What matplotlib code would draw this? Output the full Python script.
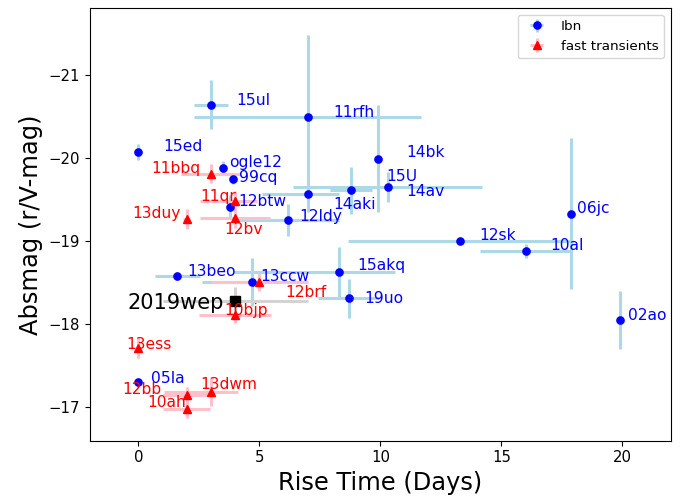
import matplotlib
matplotlib.use("Agg")
import matplotlib.pyplot as plt

# ---------------- data ----------------
ibn_names = ["15ed", "15ul", "11rfh", "ogle12", "99cq", "12btw", "12ldy", "14aki",
             "15U", "14bk", "14av", "06jc", "12sk", "10al", "13beo", "13ccw",
             "15akq", "19uo", "05la", "02ao"]
ibn_rise = [0.0, 3.0, 7.0, 3.5, 3.9, 3.8, 6.2, 7.0,
            8.8, 9.9, 10.3, 17.9, 13.3, 16.0, 1.6, 4.7,
            8.3, 8.7, 0.0, 19.9]
ibn_mag = [-20.07, -20.64, -20.49, -19.88, -19.74, -19.41, -19.25, -19.57,
           -19.61, -19.99, -19.65, -19.33, -19.00, -18.88, -18.58, -18.51,
           -18.63, -18.31, -17.30, -18.05]
ibn_rise_err_lo = [0.0, 0.7, 4.7, 0.0, 0.0, 0.0, 2.1, 1.9,
                   0.87, 0.0, 3.9, 0.0, 4.65, 1.9, 0.93, 2.07,
                   4.4, 1.26, 0.0, 0.0]
ibn_rise_err_hi = [0.0, 0.7, 4.7, 0.0, 0.0, 0.0, 2.1, 1.3,
                   0.87, 0.0, 3.9, 0.0, 4.65, 1.9, 0.93, 2.07,
                   2.3, 1.26, 0.0, 0.0]
ibn_mag_err = [0.10, 0.29, 0.99, 0.08, 0.05, 0.14, 0.19, 0.22,
               0.28, 0.64, 0.18, 0.91, 0.0, 0.08, 0.05, 0.29,
               0.30, 0.23, 0.05, 0.35]
ibn_label_xy = [(1.04, -20.13), (4.04, -20.69), (8.04, -20.54), (3.75, -19.94),
                (4.14, -19.76), (4.14, -19.47), (6.66, -19.30), (8.04, -19.44),
                (10.25, -19.77), (11.06, -20.06), (11.06, -19.60), (18.14, -19.39),
                (14.07, -19.06), (17.03, -18.94), (2.04, -18.63), (5.04, -18.57),
                (9.04, -18.70), (9.34, -18.31), (0.51, -17.35), (20.23, -18.11)]

ft_names = ["11bbq", "11qr", "13duy", "12bv", "12brf", "10bjp", "13ess",
            "12bb", "13dwm", "10ah"]
ft_rise = [3.0, 4.0, 2.0, 4.0, 5.0, 4.0, 0.0, 2.0, 3.0, 2.0]
ft_mag = [-19.81, -19.48, -19.27, -19.28, -18.51, -18.11, -17.71,
          -17.15, -17.19, -16.98]
ft_rise_err_lo = [1.24, 1.45, 0.15, 1.45, 2.0, 1.5, 0.0, 0.97, 1.95, 0.97]
ft_rise_err_hi = [1.24, 0.9, 0.15, 1.45, 2.0, 1.5, 0.0, 0.97, 1.1, 0.97]
ft_mag_err = [0.11, 0.12, 0.12, 0.12, 0.11, 0.10, 0.12, 0.10, 0.17, 0.11]
ft_label_xy = [(0.55, -19.87), (2.55, -19.54), (-0.25, -19.33), (3.55, -19.14),
               (6.07, -18.38), (3.56, -18.16), (-0.48, -17.76), (-0.66, -17.22),
               (2.55, -17.28), (0.35, -17.06)]

wep_name = "2019wep"
wep_rise = [4.0]
wep_mag = [-18.28]
wep_rise_err = [3.0]
wep_mag_err = [0.17]
wep_label_xy = (-0.46, -18.26)

# ---------------- plot ----------------
W, H = 683, 500
fig = plt.figure(figsize=(W / 100, H / 100), dpi=100)
ax = fig.add_axes([90 / W, 1 - 440.7 / H, (670.7 - 90) / W, (440.7 - 8) / H])

ax.errorbar(ibn_rise, ibn_mag, xerr=[ibn_rise_err_lo, ibn_rise_err_hi],
            yerr=ibn_mag_err, fmt='o', color='blue', ecolor='lightblue',
            elinewidth=2.2, ms=5.2, label='Ibn')
ax.errorbar(ft_rise, ft_mag, xerr=[ft_rise_err_lo, ft_rise_err_hi],
            yerr=ft_mag_err, fmt='^', color='red', ecolor='pink',
            elinewidth=2.2, ms=6, label='fast transients')
ax.errorbar(wep_rise, wep_mag, xerr=wep_rise_err, yerr=wep_mag_err, fmt='s',
            color='black', ecolor='lightgray', elinewidth=2.2, ms=7.7)

for name, (lx, ly) in zip(ibn_names, ibn_label_xy):
    ax.text(lx, ly, name, color='blue', fontsize=11.2, ha='left', va='center')
for name, (lx, ly) in zip(ft_names, ft_label_xy):
    ax.text(lx, ly, name, color='red', fontsize=11.2, ha='left', va='center')
ax.text(wep_label_xy[0], wep_label_xy[1], wep_name, color='black',
        fontsize=15, ha='left', va='center')

ax.set_xlim(-2, 22)
ax.set_ylim(-16.6, -21.8)
ax.set_xticks([0, 5, 10, 15, 20])
ax.set_yticks([-21, -20, -19, -18, -17])
ax.tick_params(labelsize=10.7)
ax.set_xlabel('Rise Time (Days)', fontsize=17.4)
ax.set_ylabel('Absmag (r/V-mag)', fontsize=17.4)
ax.legend(loc='upper right', fontsize=9.7)

fig.savefig('out.png', dpi=100)
